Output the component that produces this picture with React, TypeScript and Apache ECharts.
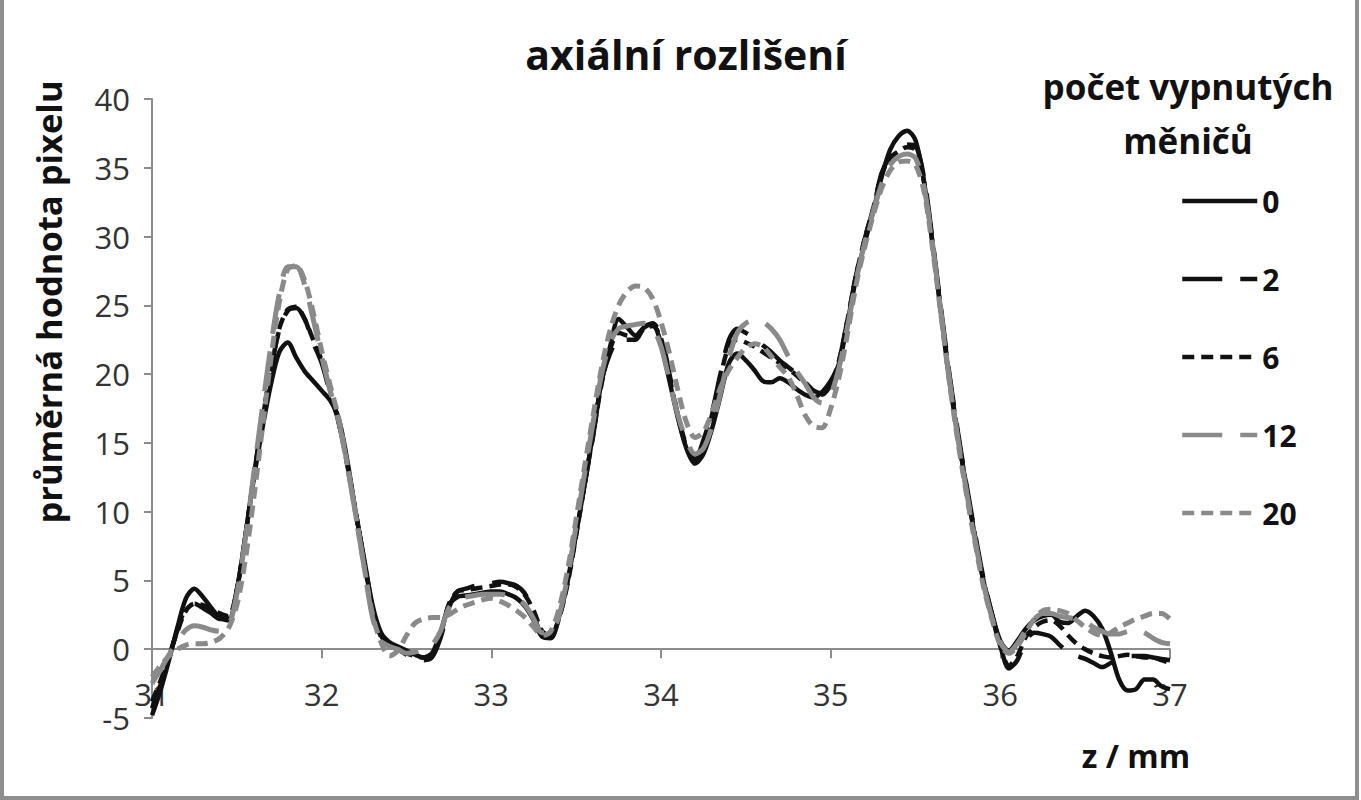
import React, { useEffect, useRef } from 'react';
import * as echarts from 'echarts';

// z positions (mm) shared by all series
const zPos = [
  31.0, 31.05, 31.1, 31.15, 31.2, 31.25, 31.3, 31.35, 31.4, 31.45,
  31.5, 31.55, 31.6, 31.65, 31.7, 31.75, 31.8, 31.85, 31.9, 31.95,
  32.0, 32.05, 32.1, 32.15, 32.2, 32.25, 32.3, 32.35, 32.4, 32.45,
  32.5, 32.55, 32.6, 32.65, 32.7, 32.75, 32.8, 32.85, 32.9, 32.95,
  33.0, 33.05, 33.1, 33.15, 33.2, 33.25, 33.3, 33.35, 33.4, 33.45,
  33.5, 33.55, 33.6, 33.65, 33.7, 33.75, 33.8, 33.85, 33.9, 33.95,
  34.0, 34.05, 34.1, 34.15, 34.2, 34.25, 34.3, 34.35, 34.4, 34.45,
  34.5, 34.55, 34.6, 34.65, 34.7, 34.75, 34.8, 34.85, 34.9, 34.95,
  35.0, 35.05, 35.1, 35.15, 35.2, 35.25, 35.3, 35.35, 35.4, 35.45,
  35.5, 35.55, 35.6, 35.65, 35.7, 35.75, 35.8, 35.85, 35.9, 35.95,
  36.0, 36.05, 36.1, 36.15, 36.2, 36.25, 36.3, 36.35, 36.4, 36.45,
  36.5, 36.55, 36.6, 36.65, 36.7, 36.75, 36.8, 36.85, 36.9, 36.95,
  37.0,
];

// průměrná hodnota pixelu, 0 vypnutých měničů
const off0 = [
  -4.8, -3.0, -0.8, 1.6, 3.7, 4.4, 3.8, 3.0, 2.3, 2.1,
  4.3, 8.2, 12.4, 16.0, 19.2, 21.6, 22.3, 21.2, 20.2, 19.5,
  18.8, 18.1, 16.8, 13.8, 10.0, 6.6, 3.2, 1.2, 0.5, 0.2,
  -0.1, -0.4, -0.6, -0.3, 1.2, 3.2, 3.8, 3.9, 4.0, 4.1,
  4.2, 4.2, 4.0, 3.7, 3.1, 2.1, 0.9, 0.8, 2.4, 5.0,
  8.4, 12.0, 15.7, 19.5, 22.0, 24.0, 23.4, 22.8, 23.4, 23.6,
  22.2, 19.5, 16.8, 14.6, 13.5, 14.2, 16.0, 18.4, 20.8, 21.5,
  21.0, 20.3, 19.5, 19.4, 19.7, 19.4, 18.9, 18.5, 18.3, 18.7,
  19.5, 20.8, 23.8, 27.0, 29.5, 31.8, 34.3, 36.3, 37.3, 37.7,
  37.0, 34.0, 29.5, 24.5, 19.5, 15.5, 11.8, 8.2, 5.0, 2.6,
  0.6, -0.1, 0.6, 1.5, 2.1, 2.4, 2.5, 2.0, 1.9, 2.4,
  2.8, 2.4, 1.5, -0.2, -2.2, -3.0, -2.9, -2.2, -2.2, -2.7,
  -2.9,
];

const off2 = [
  -4.3, -2.6, -0.6, 1.4, 3.0, 3.3, 3.0, 2.6, 2.2, 2.2,
  4.3, 8.2, 12.6, 16.6, 20.2, 23.2, 24.6, 24.8, 24.0, 22.3,
  20.8, 18.6, 16.5, 13.5, 10.0, 6.5, 3.0, 1.0, 0.3, 0.0,
  -0.4, -0.7, -0.8, -0.6, 0.8, 3.0, 4.2, 4.4, 4.6, 4.7,
  4.8, 4.9, 4.8, 4.6, 4.0, 2.5, 1.0, 0.9, 2.3, 5.0,
  8.5, 12.0, 15.5, 19.5, 21.5, 22.5, 22.5, 22.5, 23.4, 23.7,
  22.8, 20.0, 17.0, 14.8, 13.8, 15.2, 17.2, 20.0, 22.5, 23.3,
  23.0, 22.6, 22.1, 21.6, 21.0, 20.5, 20.0, 19.4, 18.8, 18.6,
  19.2, 21.0, 24.0, 27.2, 29.8, 32.0, 34.6, 35.8, 36.3, 36.7,
  36.6, 34.3, 29.8, 24.8, 20.0, 15.8, 12.0, 8.5, 5.2, 2.6,
  0.3, -1.4, -0.8, 0.6, 1.2, 1.1, 0.9, 0.3, -0.2, -0.5,
  -0.7, -1.0, -1.3, -1.0, -0.7, -0.5, -0.5, -0.5, -0.6, -0.7,
  -0.8,
];

const off6 = [
  -3.8, -2.3, -0.5, 1.3, 2.8, 3.3, 3.2, 2.9, 2.6, 2.4,
  4.3, 8.2, 12.6, 16.6, 20.3, 23.3, 24.7, 24.9, 24.0, 22.5,
  21.0, 18.8, 16.5, 13.5, 10.0, 6.4, 2.9, 0.9, 0.3, 0.0,
  -0.3, -0.5, -0.6, -0.3, 1.0, 3.3, 4.2, 4.3, 4.4, 4.5,
  4.6, 4.7, 4.7, 4.5, 3.9, 2.8, 1.3, 1.0, 2.3, 4.8,
  8.3, 12.0, 15.6, 19.3, 21.8, 23.0, 22.8, 22.7, 23.3, 23.5,
  22.6, 19.8, 16.9, 14.7, 13.7, 15.0, 17.0, 19.8, 22.0, 22.5,
  22.3, 22.0, 21.6, 21.2, 20.8, 20.4, 19.9, 19.3, 18.6, 18.5,
  19.3, 21.0, 24.0, 27.2, 29.8, 32.0, 34.5, 35.7, 36.2, 36.5,
  36.3, 34.0, 29.6, 24.6, 19.8, 15.6, 11.8, 8.3, 5.0, 2.5,
  0.2, -1.2, -0.5, 0.9, 1.6, 2.0, 2.1, 1.7, 1.0, 0.4,
  0.0, -0.3, -0.5, -0.6, -0.5, -0.4, -0.5, -0.6, -0.6, -0.8,
  -1.0,
];

const off12 = [
  -2.5, -1.5, -0.4, 0.6, 1.4, 1.7, 1.6, 1.4, 1.3, 1.6,
  4.0, 8.0, 12.8, 17.5, 22.0, 25.8, 27.8, 27.8, 26.5, 24.0,
  21.3, 18.8, 16.6, 13.4, 9.8, 6.0, 2.3, 0.6, 0.2, 0.0,
  -0.3, -0.2, 0.0, 0.3, 1.3, 3.0, 3.6, 3.8, 3.9, 4.0,
  4.0, 4.0, 3.9, 3.7, 3.2, 2.2, 1.2, 1.2, 2.5, 5.3,
  9.0, 12.8, 16.5, 20.0, 22.3, 23.3, 23.5, 23.6, 23.7, 23.4,
  22.0, 19.5, 17.0, 15.2, 14.2, 14.6, 16.2, 18.6, 21.2, 23.0,
  23.7, 23.9, 23.8, 23.3, 22.5, 21.3, 20.2, 19.3, 18.3, 17.9,
  18.5, 20.5, 23.5, 26.8, 29.5, 31.8, 33.8, 35.2, 35.8, 36.0,
  35.7, 33.6, 29.5, 24.5, 19.6, 15.3, 11.5, 8.0, 4.8, 2.3,
  0.5, -0.2, 0.4, 1.4, 2.2, 2.6, 2.6, 2.4, 2.3, 2.2,
  2.0, 1.6, 1.3, 1.1, 1.1, 1.3, 1.4, 1.2, 0.8, 0.5,
  0.4,
];

const off20 = [
  -2.0, -1.2, -0.5, 0.0, 0.3, 0.4, 0.4, 0.5, 0.8, 1.5,
  3.2, 6.5, 11.0, 16.0, 21.0, 25.2, 27.6, 27.9, 26.8, 24.5,
  21.7, 19.2, 16.8, 13.5, 9.8, 6.0, 2.5, 0.5, -0.5, -0.1,
  1.0, 1.9, 2.2, 2.3, 2.3, 2.5, 2.9, 3.2, 3.4, 3.6,
  3.7, 3.5, 3.2, 2.8, 2.3, 1.6, 1.0, 1.3, 3.0, 5.8,
  9.5, 13.3, 17.0, 20.5, 23.2, 25.0, 26.0, 26.4, 26.3, 25.5,
  23.8, 21.5, 18.8, 16.5, 15.4, 15.8, 17.2, 19.0, 20.3, 21.2,
  21.9, 22.2, 22.0, 21.3, 20.5, 19.8, 18.5, 17.0, 16.2, 16.1,
  17.5, 19.8, 23.0, 26.5, 29.2, 31.5, 33.5, 34.8, 35.4, 35.5,
  35.2, 33.3, 29.2, 24.3, 19.4, 15.1, 11.3, 7.8, 4.6, 2.2,
  0.3, -0.3, 0.2, 1.2, 2.2, 2.8, 2.9, 2.8, 2.6, 2.1,
  1.6, 1.2, 1.0, 1.2, 1.6, 1.9, 2.2, 2.4, 2.6, 2.6,
  2.2,
];

const seriesNames = ['0', '2', '6', '12', '20'];
const seriesValues = [off0, off2, off6, off12, off20];

const FONT = '"Open Sans", Lato, sans-serif';
const BLACK = '#111111';
const GRAY = '#8a8a8a';

const lineStyles = [
  { color: BLACK, type: 'solid' as any, width: 4.5 },
  { color: BLACK, type: [40, 18], width: 4.5 },
  { color: BLACK, type: [12, 7], width: 4.5 },
  { color: GRAY, type: [40, 18], width: 5 },
  { color: GRAY, type: [12, 7], width: 5 },
];

const App: React.FC = () => {
  const chartRef = useRef<HTMLDivElement>(null);

  useEffect(() => {
    if (!chartRef.current) return;
    const chart = echarts.init(chartRef.current, undefined, { renderer: 'svg' });

    const option: any = {
      animation: false,
      backgroundColor: '#ffffff',
      textStyle: { fontFamily: FONT },
      title: [
        {
          text: 'axiální rozlišení',
          left: 681,
          top: 28,
          textAlign: 'center',
          textStyle: { fontFamily: FONT, fontSize: 41, fontWeight: 'bold', color: '#111' },
        },
        {
          text: 'počet vypnutých\nměničů',
          left: 1183,
          top: 54,
          textAlign: 'center',
          textStyle: {
            fontFamily: FONT,
            fontSize: 35,
            fontWeight: 'bold',
            color: '#111',
            lineHeight: 54,
          },
        },
        {
          text: 'z / mm',
          left: 1131,
          top: 734,
          textAlign: 'center',
          textStyle: { fontFamily: FONT, fontSize: 32, fontWeight: 'bold', color: '#111' },
        },
      ],
      legend: {
        orient: 'vertical',
        left: 1180,
        top: 186,
        padding: 0,
        itemWidth: 75,
        itemHeight: 30,
        itemGap: 48,
        data: seriesNames,
        itemStyle: { opacity: 0 },
        lineStyle: { width: 4.5 },
        textStyle: {
          fontFamily: FONT,
          fontSize: 30,
          fontWeight: 'bold',
          color: '#111',
          lineHeight: 30,
        },
      },
      grid: { left: 152, right: 191, top: 99, bottom: 82 },
      xAxis: {
        type: 'value',
        min: 31,
        max: 37,
        interval: 1,
        axisLine: { onZero: true, lineStyle: { color: '#8c8c8c', width: 2 } },
        axisTick: { show: true, length: 9, lineStyle: { color: '#8c8c8c', width: 2 } },
        axisLabel: { margin: -40, fontSize: 31, color: '#333', fontFamily: FONT },
        splitLine: { show: false },
      },
      yAxis: {
        type: 'value',
        min: -5,
        max: 40,
        interval: 5,
        axisLine: { show: true, onZero: false, lineStyle: { color: '#8c8c8c', width: 2 } },
        axisTick: { show: true, length: 8, lineStyle: { color: '#8c8c8c', width: 2 } },
        axisLabel: { margin: 22, fontSize: 31, color: '#333', fontFamily: FONT },
        splitLine: { show: false },
      },
      graphic: [
        {
          type: 'text',
          x: 48,
          y: 302,
          rotation: Math.PI / 2,
          style: {
            text: 'průměrná hodnota pixelu',
            fontFamily: FONT,
            fontSize: 34.5,
            fontWeight: 'bold',
            fill: '#111',
            align: 'center',
            verticalAlign: 'middle',
          },
        },
        {
          type: 'polyline',
          shape: { points: [[2, 0], [2, 798], [1357, 798], [1357, 0]] },
          style: { stroke: '#8e8e8e', lineWidth: 4, fill: 'none' },
        },
      ],
      series: seriesNames.map((name, s) => ({
        name,
        type: 'line',
        smooth: 0.3,
        symbol: 'none',
        data: zPos.map((z, i) => [z, seriesValues[s][i]]),
        lineStyle: {
          color: lineStyles[s].color,
          type: lineStyles[s].type,
          width: lineStyles[s].width,
        },
        itemStyle: { color: lineStyles[s].color },
      })),
    };

    chart.setOption(option);

    return () => {
      chart.dispose();
    };
  }, []);

  return (
    <div
      ref={chartRef}
      style={{ position: 'fixed', left: 0, top: 0, width: 1361, height: 800 }}
    />
  );
};

export default App;
